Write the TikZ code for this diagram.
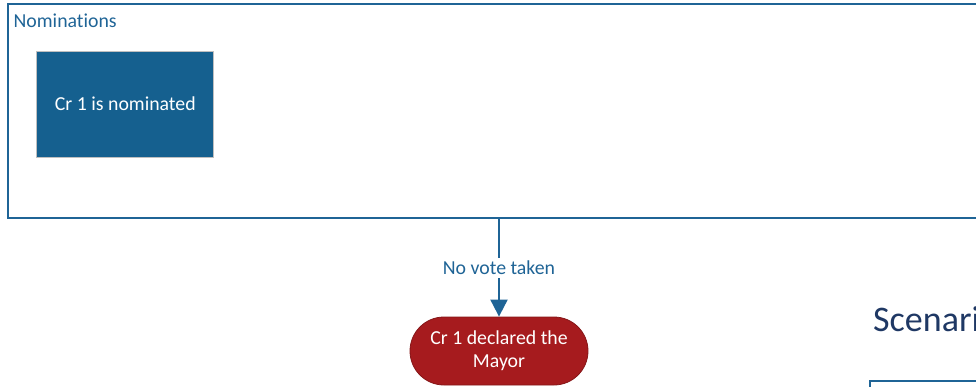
\documentclass[tikz,border=0pt]{standalone}
\usepackage{fontspec}
\setmainfont{Carlito}[Ligatures=NoCommon]
\usetikzlibrary{arrows.meta,shapes.misc}

\definecolor{lineblue}{RGB}{31,100,150}
\definecolor{nomblue}{RGB}{21,96,143}
\definecolor{mayorred}{RGB}{166,27,30}
\definecolor{navy}{RGB}{31,56,100}

\begin{document}
\begin{tikzpicture}[x=1pt, y=-1pt,
    frame/.style={draw=lineblue, line width=1.5pt, inner sep=0pt},
    label/.style={text=lineblue, inner sep=0pt, font=\fontsize{19.8}{23.3}\selectfont},
    stepbox/.style={fill=nomblue, draw=black!25, line width=0.8pt, text=white, minimum width=177pt, minimum height=106pt, font=\fontsize{19.8}{23.3}\selectfont},
    endbox/.style={rounded rectangle, fill=mayorred, draw=mayorred!80!black, line width=0.8pt, text=white, align=center, minimum width=178pt, minimum height=68pt, inner sep=0pt, font=\fontsize{19.8}{23.3}\selectfont},
    flow/.style={draw=lineblue, line width=2pt, -{Triangle[width=17pt,length=17pt]}},
    edge/.style={midway, fill=white, text=lineblue, inner sep=3pt, font=\fontsize{19.8}{23.3}\selectfont}]
    \useasboundingbox (0,0) rectangle (976,387);
    \clip (0,0) rectangle (976,387);

    \node[frame, minimum width=992pt, minimum height=214pt] (nom) at (504,111) {};
    \node[label, anchor=base west] (nomtitle) at (13.5,27.7) {Nominations};
    \node[stepbox] (nominated) at (125.3,104) {Cr 1 is nominated};
    \node[endbox] (mayor) at (499,351) {Cr 1 declared the\\Mayor};

    \node[text=navy, anchor=base west, inner sep=0pt, font=\fontsize{36}{40}\selectfont] (scen) at (873,331.7) {Scenario};
    \node[frame, anchor=north west, minimum width=200pt, minimum height=60pt] (scenbox) at (869,380) {};

    \path
        (nom.south -| mayor.north) edge[flow] node[edge] {No vote taken} (mayor.north)
        ;
\end{tikzpicture}
\end{document}
